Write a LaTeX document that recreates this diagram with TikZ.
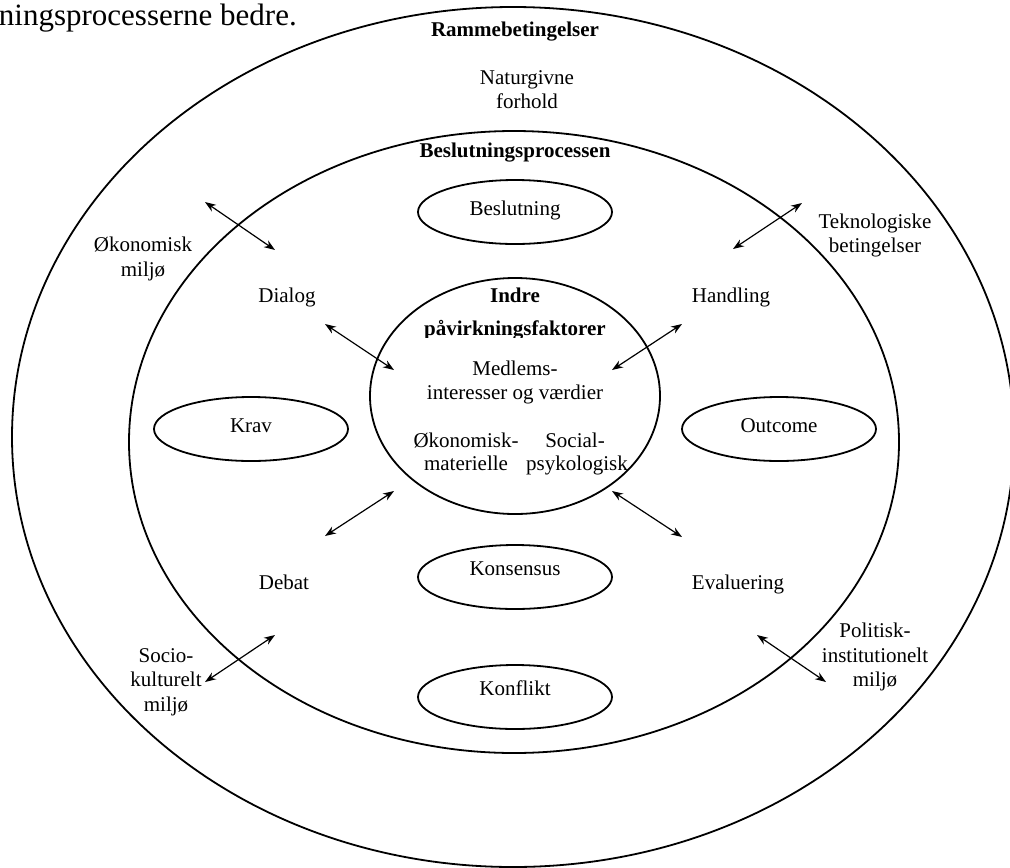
\documentclass[tikz,border=0pt]{standalone}
\usepackage{fontspec}
\setmainfont{Liberation Serif}
\usetikzlibrary{arrows.meta,shapes.geometric}
\begin{document}
\begin{tikzpicture}[x=1pt,y=-1pt,
  lbl/.style={font=\fontsize{21}{24}\selectfont, inner sep=0pt, anchor=base, align=center},
  blbl/.style={font=\fontsize{21}{24}\selectfont\bfseries, inner sep=0pt, anchor=base, align=center},
  ring/.style={draw, line width=1.8pt, ellipse, inner sep=0pt},
  oval/.style={draw, line width=1.8pt, ellipse, inner sep=0pt, minimum width=194pt, minimum height=64pt},
  link/.style={{Stealth[length=11pt,width=8pt]}-{Stealth[length=11pt,width=8pt]}, line width=1.2pt}]
\useasboundingbox (0,0) rectangle (1010,868);

% rings
\node[ring, minimum width=1002pt, minimum height=860pt] (outer) at (513,437) {};
\node[ring, minimum width=770pt, minimum height=622pt] (inner) at (514,442) {};
\node[ring, minimum width=290pt, minimum height=236pt] (core) at (515,396) {};

% ovals
\node[oval] (beslutningE) at (515,212) {};
\node[oval] (kravE) at (251,429) {};
\node[oval] (outcomeE) at (779,429) {};
\node[oval] (konsensusE) at (515,577) {};
\node[oval] (konfliktE) at (515,697) {};

% page text
\node[font=\fontsize{31}{36}\selectfont, inner sep=0pt, anchor=base east] (page) at (297,25) {ningsprocesserne bedre.};

% headings
\node[blbl] (ramme) at (515,36) {Rammebetingelser};
\node[blbl] (beslproc) at (515,157) {Beslutningsprocessen};
\node[blbl] (indre) at (515,302) {Indre};
\begin{scope}
\clip (300,300) rectangle (730,337.5);
\node[blbl] (paavirk) at (515,335) {påvirkningsfaktorer};
\end{scope}

% outer labels
\node[lbl] (natur1) at (527,84) {Naturgivne};
\node[lbl] (natur2) at (527,108) {forhold};
\node[lbl] (oek1) at (143,251) {Økonomisk};
\node[lbl] (oek2) at (143,276) {miljø};
\node[lbl] (tek1) at (875,228) {Teknologiske};
\node[lbl] (tek2) at (875,252) {betingelser};
\node[lbl] (soc1) at (166,662) {Socio-};
\node[lbl] (soc2) at (166,686) {kulturelt};
\node[lbl] (soc3) at (166,711) {miljø};
\node[lbl] (pol1) at (875,637) {Politisk-};
\node[lbl] (pol2) at (875,662) {institutionelt};
\node[lbl] (pol3) at (875,686) {miljø};

% process labels
\node[lbl] (dialog) at (287,302) {Dialog};
\node[lbl] (handling) at (731,302) {Handling};
\node[lbl] (debat) at (284,589) {Debat};
\node[lbl] (evaluering) at (738,589) {Evaluering};
\node[lbl] (beslutning) at (515,215) {Beslutning};
\node[lbl] (krav) at (251,432) {Krav};
\node[lbl] (outcome) at (779,432) {Outcome};
\node[lbl] (konsensus) at (515,575) {Konsensus};
\node[lbl] (konflikt) at (515,695) {Konflikt};

% core labels
\node[lbl] (medl1) at (515,375) {Medlems-};
\node[lbl] (medl2) at (515,399) {interesser og værdier};
\node[lbl] (oekm1) at (466,447) {Økonomisk-};
\node[lbl] (oekm2) at (466,470) {materielle};
\node[lbl] (socp1) at (575,447) {Social-};
\node[lbl] (socp2) at (577,470) {psykologisk};

% arrow end points
\coordinate (a1s) at (205,202); \coordinate (a1e) at (275,250);
\coordinate (a2s) at (802,203); \coordinate (a2e) at (733,249);
\coordinate (a3s) at (325,324); \coordinate (a3e) at (394,370);
\coordinate (a4s) at (682,324); \coordinate (a4e) at (612,370);
\coordinate (a5s) at (325,536); \coordinate (a5e) at (394,491);
\coordinate (a6s) at (612,491); \coordinate (a6e) at (682,537);
\coordinate (a7s) at (275,635); \coordinate (a7e) at (205,682);
\coordinate (a8s) at (757,635); \coordinate (a8e) at (826,682);

\draw[link] (a1s) -- (a1e);
\draw[link] (a2s) -- (a2e);
\draw[link] (a3s) -- (a3e);
\draw[link] (a4s) -- (a4e);
\draw[link] (a5s) -- (a5e);
\draw[link] (a6s) -- (a6e);
\draw[link] (a7s) -- (a7e);
\draw[link] (a8s) -- (a8e);
\end{tikzpicture}
\end{document}
